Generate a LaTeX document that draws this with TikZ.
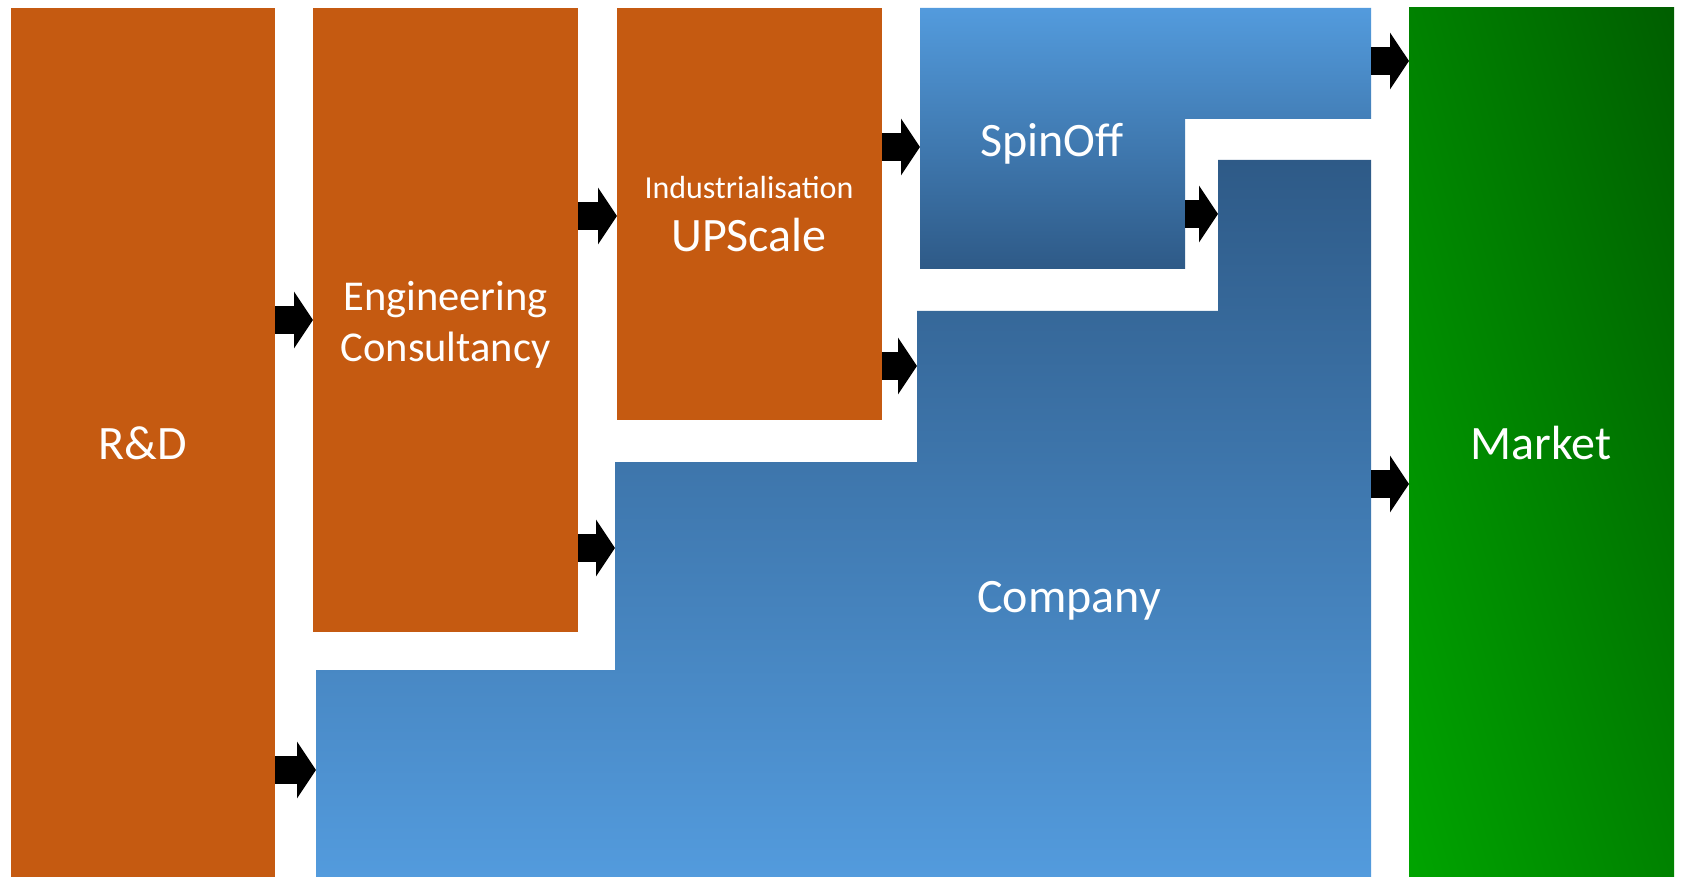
\documentclass[tikz,border=0pt]{standalone}
\usepackage{fontspec}
\setmainfont{Carlito}
\usetikzlibrary{arrows.meta, shadings, calc}

\definecolor{rust}{RGB}{197,90,17}
\definecolor{blueLight}{RGB}{83,155,221}
\definecolor{blueDark}{RGB}{46,90,135}
\definecolor{greenLight}{RGB}{0,164,0}
\definecolor{greenMid}{RGB}{0,130,0}
\definecolor{greenDark}{RGB}{0,94,0}

\newcommand\bigtext{\fontsize{48}{57}\selectfont}
\newcommand\midtext{\fontsize{42.5}{51}\selectfont}
\newcommand\smalltext{\fontsize{32}{38}\selectfont}

\begin{document}
\begin{tikzpicture}[x=1pt, y=-1pt]
  \tikzset{
    col/.style={inner sep=0pt, outer sep=0pt, anchor=north west},
    box/.style={col, fill=rust},
    tag/.style={text=white, inner sep=0pt, anchor=base},
    flow/.style={line width=28pt, -{Triangle[length=19pt, width=56pt]}},
  }
  \useasboundingbox (0,0) rectangle (1681,877);

  % orange columns
  \node[box, minimum width=264pt, minimum height=869pt] (rd) at (11,8) {};
  \node[box, minimum width=265pt, minimum height=624pt] (eng) at (313,8) {};
  \node[box, minimum width=265pt, minimum height=412pt] (ups) at (617,8) {};

  % market column, green from lower left to upper right
  \node[col, minimum width=265pt, minimum height=869pt,
        lower left=greenLight, upper right=greenDark,
        upper left=greenMid, lower right=greenMid] (market) at (1409,8) {};

  % spin-off, an L shape
  \shade[top color=blueLight, bottom color=blueDark]
    (920,8) coordinate (spin-in) -- (1371,8) -- (1371,119) coordinate (spin-arm)
    -- (1185,119) -- (1185,269) coordinate (spin-out) -- (920,269) -- cycle;

  % company, a staircase
  \shade[top color=blueDark, bottom color=blueLight]
    (1218,160) coordinate (comp-top) -- (1371,160) -- (1371,877) coordinate (comp-right)
    -- (316,877) -- (316,670) coordinate (comp-low) -- (615,670)
    -- (615,462) coordinate (comp-mid) -- (917,462)
    -- (917,311) coordinate (comp-up) -- (1218,311) -- cycle;

  % block arrows: source/target/height
  \foreach \from/\to/\yy in {rd.east/eng.west/320, rd.east/comp-low/770,
      eng.east/ups.west/216, eng.east/comp-mid/548,
      ups.east/spin-in/147, ups.east/comp-up/366,
      spin-out/comp-top/214, spin-arm/market.west/61,
      comp-right/market.west/484}{
    \draw[flow] (\from |- 0,\yy) -- (\to |- 0,\yy);
  }

  % labels (base = last line)
  \node[tag, font=\bigtext] (rd-label) at (143,459) {R\&D};
  \node[tag, font=\midtext, align=center] (eng-label) at (445.5,361) {Engineering\\Consultancy};
  \node[tag, font=\smalltext] (ups-sub) at (749,199) {Industrialisation};
  \node[tag, font=\bigtext] (ups-label) at (749,252) {UPScale};
  \node[tag, font=\bigtext] (spin-label) at (1052,157) {SpinOff};
  \node[tag, font=\bigtext] (comp-label) at (1069,612) {Company};
  \node[tag, font=\bigtext] (market-label) at (1541,459) {Market};
\end{tikzpicture}
\end{document}
